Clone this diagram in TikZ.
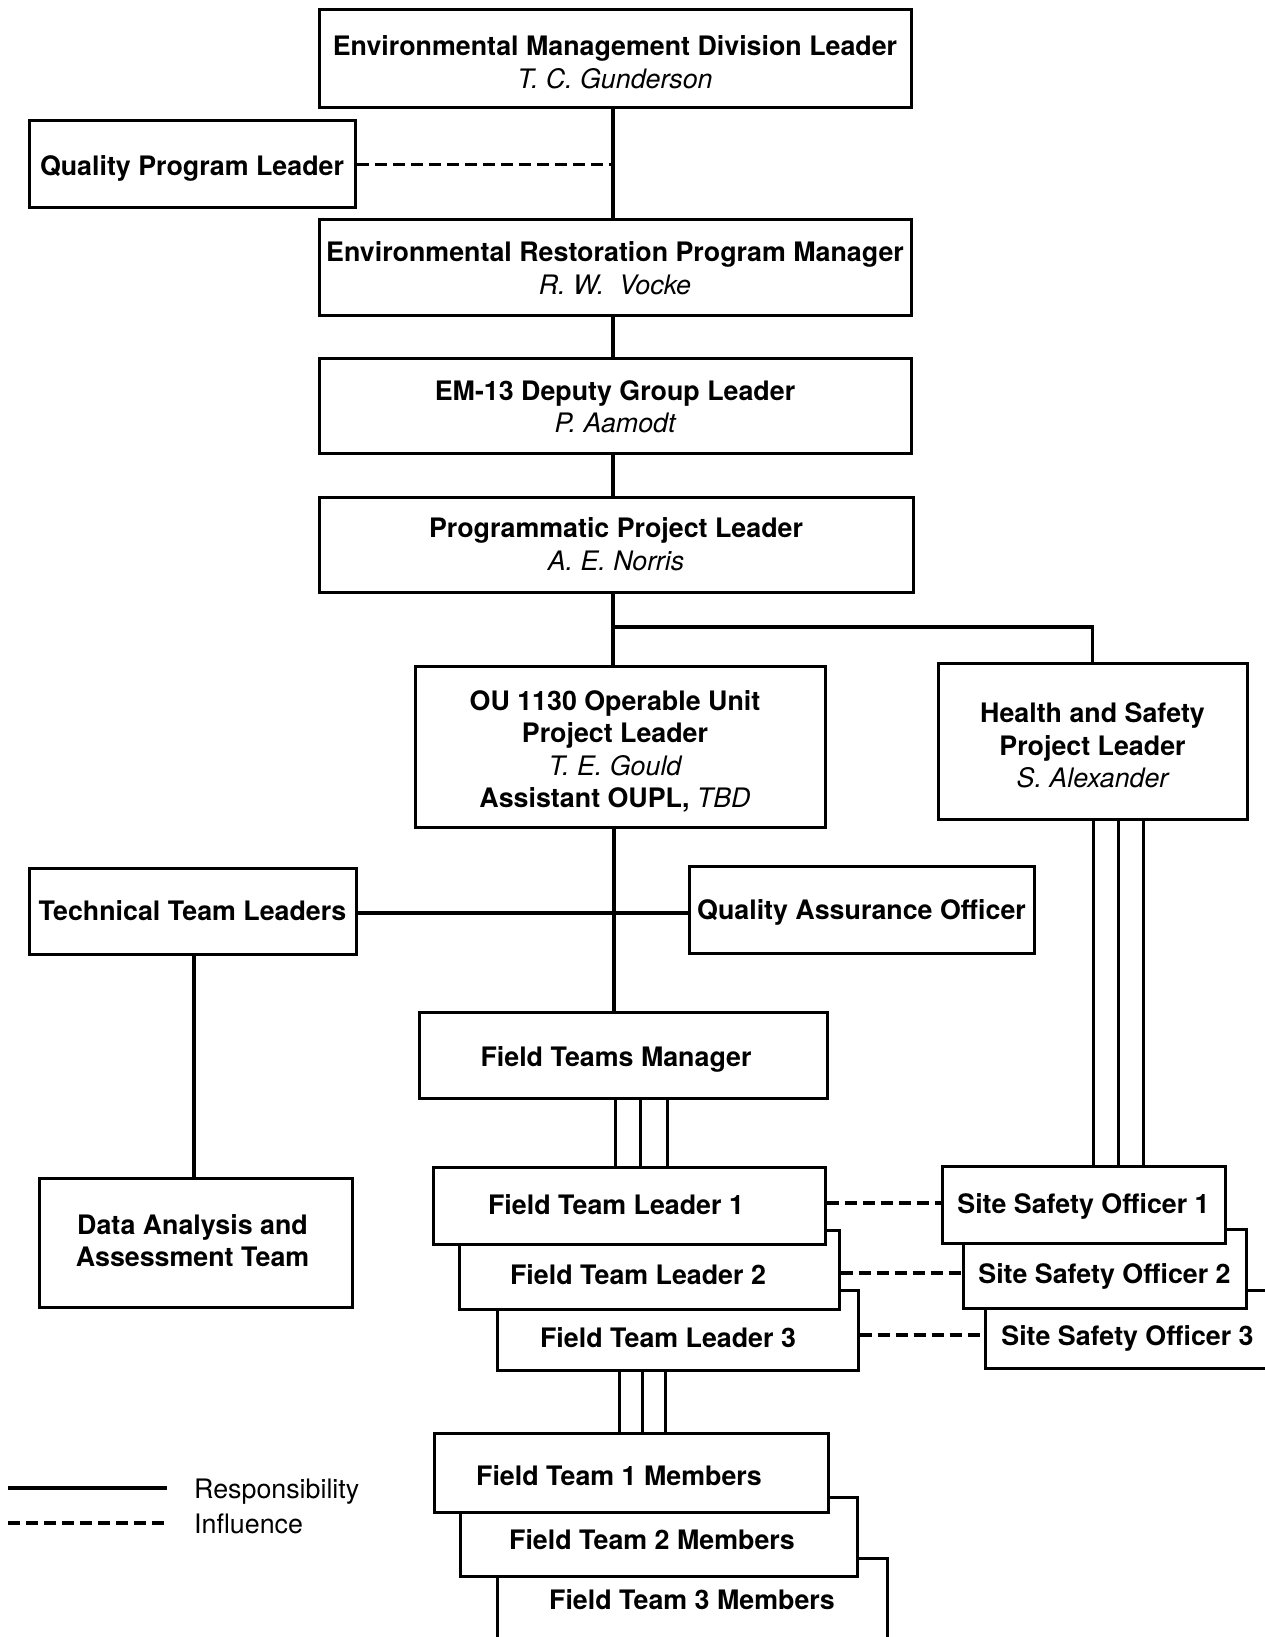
\documentclass[tikz,border=0pt]{standalone}
\usepackage{fontspec}
\setmainfont{TeX Gyre Heros}
\newcommand\who[1]{{\mdseries\itshape #1}}
% lowered, centred block of lines that keeps its natural size
\newcommand\drop[2]{\raisebox{-#1}[\height][\depth]{\begin{tabular}{@{}c@{}}#2\end{tabular}}}
\begin{document}
\begin{tikzpicture}[x=1pt,y=-1pt,
  box/.style={draw, line width=3pt, fill=white, inner sep=0pt,
    font=\fontsize{26.8}{32.5}\selectfont\bfseries},
  link/.style={line width=3.5pt},
  infl/.style={line width=3.8pt, dash pattern=on 12pt off 6pt},
  rail/.style={line width=3pt},
  legendtext/.style={anchor=west, inner sep=0pt, font=\fontsize{26.8}{32}\selectfont}]
\useasboundingbox (0,0) rectangle (1264,1637);

% management chain
\node[box, minimum width=592pt, minimum height=98pt] (emdl) at (615,59)
  {\drop{6.3pt}{Environmental Management Division Leader\\\who{T. C. Gunderson}}};
\node[box, minimum width=326pt, minimum height=87pt] (qpl) at (192,164.5)
  {\drop{4.7pt}{Quality Program Leader}};
\node[box, minimum width=592pt, minimum height=95pt] (erpm) at (615,267.5)
  {\drop{4pt}{Environmental Restoration Program Manager\\\who{R. W.\ \ Vocke}}};
\node[box, minimum width=592pt, minimum height=95pt] (dgl) at (615,405.5)
  {\drop{4.3pt}{EM-13 Deputy Group Leader\\\who{P. Aamodt}}};
\node[box, minimum width=594pt, minimum height=95pt] (ppl) at (616,544.5)
  {\drop{3pt}{Programmatic Project Leader\\\who{A. E. Norris}}};
\node[box, minimum width=410pt, minimum height=161pt] (oupl) at (620,746.5)
  {\drop{6.1pt}{OU 1130 Operable Unit\\Project Leader\\\who{T. E. Gould}\\Assistant OUPL, \who{TBD}}\hspace*{10pt}};
\node[box, minimum width=309pt, minimum height=156pt] (hspl) at (1092.5,741)
  {\drop{7.5pt}{Health and Safety\\Project Leader\\\who{S. Alexander}}};
\node[box, minimum width=327pt, minimum height=86pt] (ttl) at (192.5,911)
  {\drop{3.4pt}{Technical Team Leaders}};
\node[box, minimum width=345pt, minimum height=87pt] (qao) at (861.5,909.5)
  {\drop{3.9pt}{Quality Assurance Officer}};
\node[box, minimum width=408pt, minimum height=86pt] (ftm) at (623,1055)
  {\drop{4.5pt}{Field Teams Manager}\hspace*{14pt}};
\node[box, minimum width=313pt, minimum height=129pt] (daat) at (195.5,1242.5)
  {\drop{1.3pt}{Data Analysis and\\Assessment Team}\hspace*{6pt}};

% stacked field team leaders (back to front)
\node[box, minimum width=361pt, minimum height=80pt] (ftl3) at (677.5,1330)
  {\drop{11.4pt}{Field Team Leader 3}\hspace*{19pt}};
\node[box, minimum width=380pt, minimum height=79pt] (ftl2) at (649,1269.5)
  {\drop{8.2pt}{Field Team Leader 2}\hspace*{22pt}};
\node[box, minimum width=392pt, minimum height=77pt] (ftl1) at (629,1205.5)
  {\drop{2.2pt}{Field Team Leader 1}\hspace*{26pt}};

% stacked site safety officers (back to front)
\node[box, minimum width=285pt, minimum height=78pt] (sso3) at (1127.5,1329)
  {\drop{10.3pt}{Site Safety Officer 3}};
\node[box, minimum width=283pt, minimum height=79pt] (sso2) at (1104.5,1268.5)
  {\drop{8.1pt}{Site Safety Officer 2}};
\node[box, minimum width=283pt, minimum height=77pt] (sso1) at (1083.5,1204.5)
  {\drop{2.2pt}{Site Safety Officer 1}};

% stacked field team members (back to front)
\node[box, minimum width=390pt, minimum height=84pt] (ftm3) at (692,1600)
  {\drop{3.3pt}{Field Team 3 Members}};
\node[box, minimum width=397pt, minimum height=79pt] (ftm2) at (658.5,1536.5)
  {\drop{6.3pt}{Field Team 2 Members}\hspace*{13pt}};
\node[box, minimum width=394pt, minimum height=79pt] (ftm1) at (631,1472.5)
  {\drop{6.6pt}{Field Team 1 Members}\hspace*{24pt}};

% spine coordinates
\coordinate (top) at (613,0);
\coordinate (branch) at (613,627);
\coordinate (mid) at (614,0);

% responsibility lines
\draw[link] (top |- emdl.south) -- (top |- erpm.north);
\draw[link] (top |- erpm.south) -- (top |- dgl.north);
\draw[link] (top |- dgl.south) -- (top |- ppl.north);
\draw[link] (top |- ppl.south) -- (top |- oupl.north);
\draw[link] (branch) -| (hspl.north);
\draw[link] (mid |- oupl.south) -- (mid |- ftm.north);
\draw[link] (ttl.east |- 0,913) -- (qao.west |- 0,913);
\draw[link] (194,0 |- ttl.south) -- (194,0 |- daat.north);

% multiple reporting lines to the stacked boxes
\foreach \xx in {615,640,667}
  \draw[rail] (\xx,0 |- ftm.south) -- (\xx,0 |- ftl1.north);
\foreach \xx in {1093,1118,1143}
  \draw[rail] (\xx,0 |- hspl.south) -- (\xx,0 |- sso1.north);
\foreach \xx in {619,642,665}
  \draw[rail] (\xx,0 |- ftl3.south) -- (\xx,0 |- ftm1.north);

% influence lines
\draw[infl] (qpl.east) -- (top |- qpl.east);
\draw[infl] (ftl1.east |- 0,1203) -- (sso1.west |- 0,1203);
\draw[infl] (ftl2.east |- 0,1273) -- (sso2.west |- 0,1273);
\draw[infl] (ftl3.east |- 0,1335) -- (sso3.west |- 0,1335);

% legend
\coordinate (respA) at (8,1488);
\coordinate (respB) at (167,1488);
\coordinate (inflA) at (8,1523);
\coordinate (inflB) at (167,1523);
\draw[link] (respA) -- (respB);
\draw[infl] (inflA) -- (inflB);
\node[legendtext] (resp) at (194,1492) {Responsibility};
\node[legendtext] (influ) at (194,1524) {Influence};
\end{tikzpicture}
\end{document}
